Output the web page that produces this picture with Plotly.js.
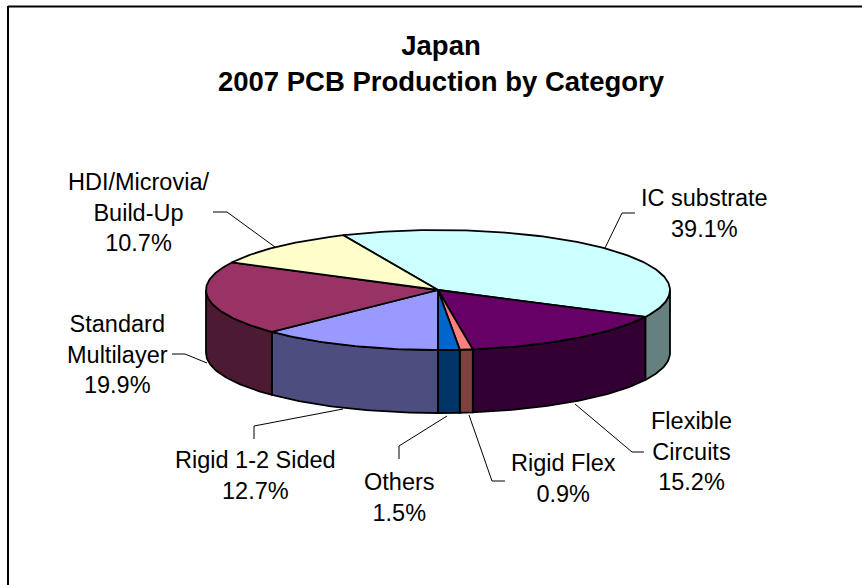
<!DOCTYPE html>
<html>
<head>
<meta charset="utf-8">
<script src="https://cdn.plot.ly/plotly-3.0.1.min.js"></script>
<style>html,body{margin:0;padding:0;background:#fff}#chart{width:862px;height:585px}</style>
</head>
<body>
<div id="chart"></div>
<script>
// Data, in pie order (clockwise from the start angle)
var categories = ["IC substrate","Flexible<br>Circuits","Rigid Flex","Others","Rigid 1-2 Sided","Standard<br>Multilayer","HDI/Microvia/<br>Build-Up"];
var shares = [39.1,15.2,0.9,1.5,12.7,19.9,10.7];
var topColors = ["#CCFFFF","#660066","#FF8080","#0066CC","#9999FF","#993366","#FFFFCC"];
var wallColors = ["#668080","#330033","#804040","#003366","#4D4D80","#4D1A33","#808066"];

// Label layout
var labelX = [704,691,563,399,255,117,138];
var labelY = [213,451,478,497,475,354,212];
var leaders = [
  [[635,213],[622,213],[605,248]],
  [[644,452],[632,452],[575,404]],
  [[505,481],[492,481],[469,415]],
  [[399,459],[399,446],[447,416]],
  [[254,439],[254,426],[343,409]],
  [[172,354],[185,354],[207,363]],
  [[213,212],[227,212],[275,247]]
];

// Pie geometry on a pixel-scaled hidden axis
var cx = 438, cy = 290, rx = 232, ry = 60, depth = 63, startDeg = -24.1;
function px(t){return cx + rx*Math.sin(t*Math.PI/180);}
function py(t){return cy - ry*Math.cos(t*Math.PI/180);}
function arc(a,b){var o=[];var n=Math.max(2,Math.ceil(Math.abs(b-a)));for(var i=0;i<=n;i++){o.push(a+(b-a)*i/n);}return o;}

var walls = [], tops = [], t0 = startDeg;
shares.forEach(function(v,i){
  var t1 = t0 + v*3.6;
  var a = Math.max(t0,90), b = Math.min(t1,270);
  if (b > a) {
    var ts = arc(a,b), rev = ts.slice().reverse();
    walls.push({type:"scatter",mode:"lines",fill:"toself",fillcolor:wallColors[i],hoverinfo:"skip",showlegend:false,
      line:{color:"#000",width:1.8},
      x:ts.map(px).concat(rev.map(px)).concat([px(a)]),
      y:ts.map(py).concat(rev.map(function(t){return py(t)+depth;})).concat([py(a)])});
  }
  var tt = arc(t0,t1);
  tops.push({type:"scatter",mode:"lines",fill:"toself",fillcolor:topColors[i],showlegend:false,name:categories[i].replace("<br>"," "),
    line:{color:"#000",width:1.8},
    x:[cx].concat(tt.map(px)).concat([cx]),
    y:[cy].concat(tt.map(py)).concat([cy])});
  t0 = t1;
});

var leaderTraces = leaders.map(function(p){
  return {type:"scatter",mode:"lines",hoverinfo:"skip",showlegend:false,line:{color:"#000",width:1},
    x:p.map(function(q){return q[0];}),y:p.map(function(q){return q[1];})};
});

var annotations = categories.map(function(c,i){
  return {xref:"x",yref:"y",x:labelX[i],y:labelY[i],text:c+"<br>"+shares[i].toFixed(1)+"%",showarrow:false,
    xanchor:"center",yanchor:"middle",align:"center",font:{family:"Liberation Sans, Arial, sans-serif",size:23.5,color:"#000"}};
});

var layout = {
  width:862,height:585,margin:{l:0,r:0,t:0,b:0},paper_bgcolor:"#fff",plot_bgcolor:"#fff",showlegend:false,
  title:{text:"Japan<br>2007 PCB Production by Category",x:0.5116,xref:"paper",xanchor:"center",y:0.906,yref:"container",yanchor:"middle",
    font:{family:"Liberation Sans, Arial, sans-serif",size:27.5,color:"#000",weight:"bold"}},
  xaxis:{range:[0,862],visible:false,fixedrange:true},
  yaxis:{range:[585,0],visible:false,fixedrange:true},
  annotations:annotations,
  shapes:[
    {type:"line",xref:"x",yref:"y",x0:8,x1:8,y0:6,y1:585,line:{color:"#000",width:2}},
    {type:"line",xref:"x",yref:"y",x0:8,x1:862,y0:6.5,y1:6.5,line:{color:"#000",width:2}}
  ]
};
Plotly.newPlot("chart",leaderTraces.concat(walls).concat(tops),layout,{displayModeBar:false,staticPlot:true});
</script>
</body>
</html>
